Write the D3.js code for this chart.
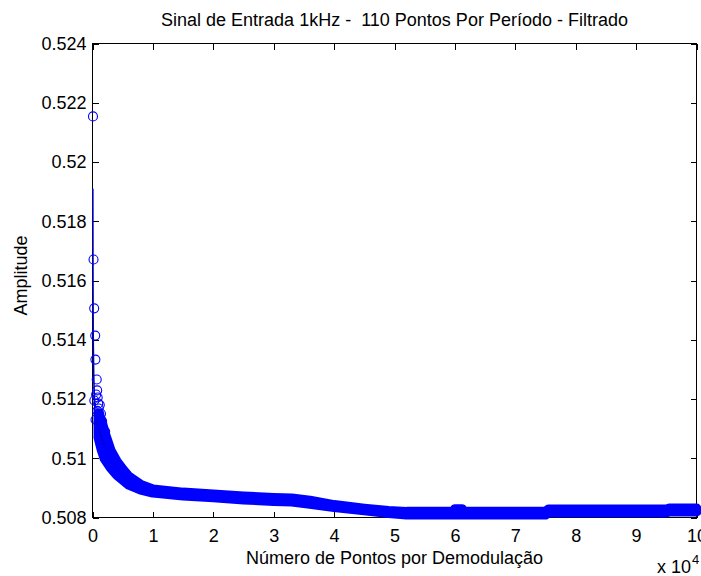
<!DOCTYPE html>
<html>
<head>
<meta charset="utf-8">
<script src="https://cdn.jsdelivr.net/npm/d3@7"></script>
<style>
  html, body { margin: 0; padding: 0; background: #fff; }
  svg { display: block; }
  text { font-family: "Liberation Sans", Arial, Helvetica, sans-serif; fill: #000; white-space: pre; }
</style>
</head>
<body>
<svg id="chart" width="701" height="576"></svg>
<script>
// ---- data (x in units of 10^4 points) ----
const titleText = "Sinal de Entrada 1kHz -  110 Pontos Por Período - Filtrado";
const xLabelText = "Número de Pontos por Demodulação";
const yLabelText = "Amplitude";

const xTicks = [0, 1, 2, 3, 4, 5, 6, 7, 8, 9, 10];
const xTickLabels = ["0", "1", "2", "3", "4", "5", "6", "7", "8", "9", "10"];
const yTicks = [0.508, 0.510, 0.512, 0.514, 0.516, 0.518, 0.520, 0.522, 0.524];
const yTickLabels = ["0.508", "0.51", "0.512", "0.514", "0.516", "0.518", "0.52", "0.522", "0.524"];

// first, well separated measurements
const earlyX = [0.008, 0.017, 0.028, 0.045, 0.048, 0.070, 0.078, 0.086, 0.094, 0.103, 0.111,
                0.119, 0.127, 0.144, 0.152, 0.169, 0.185, 0.202, 0.227, 0.252, 0.276, 0.310,
                0.060, 0.080, 0.100, 0.120, 0.140, 0.030, 0.050, 0.160, 0.210];
const earlyV = [0.52154, 0.51671, 0.51506, 0.51414, 0.51333, 0.51266, 0.51229, 0.51205, 0.51185,
                0.51168, 0.51151, 0.51138, 0.51124, 0.51111, 0.51097, 0.51084, 0.51070, 0.51057,
                0.51043, 0.51030, 0.51016, 0.51003,
                0.51215, 0.51160, 0.51120, 0.51180, 0.51150, 0.51195, 0.51130, 0.51125, 0.51090];

// filtered trace
const lineX = [0.005, 0.008, 0.012, 0.020, 0.035, 0.060, 0.100, 0.150, 0.200];
const lineV = [0.51910, 0.51600, 0.51400, 0.51280, 0.51180, 0.51120, 0.51100, 0.51070, 0.51040];

// dense region: upper / lower limits of the marker cloud
const bandX  = [0.10, 0.15, 0.2, 0.3, 0.4, 0.5, 0.6, 0.8, 1.0, 1.5, 2.0, 2.5, 3.0, 3.3, 3.6, 4.0,
                4.5, 4.9, 5.2, 5.98, 6.0, 6.12, 6.14, 7.5, 7.55, 9.5, 9.55, 10];
const bandHi = [0.51150, 0.51125, 0.51087, 0.51026, 0.50989, 0.50962, 0.50938, 0.50910, 0.50895,
                0.50884, 0.50878, 0.50871, 0.50866, 0.50864, 0.50857, 0.50842, 0.50830, 0.50822,
                0.50819, 0.50819, 0.50828, 0.50828, 0.50819, 0.50819, 0.50827, 0.50827, 0.50830, 0.50830];
const bandLo = [0.51070, 0.51030, 0.50999, 0.50969, 0.50945, 0.50928, 0.50911, 0.50894, 0.50884,
                0.50874, 0.50868, 0.50861, 0.50856, 0.50854, 0.50846, 0.50835, 0.50824, 0.50815,
                0.50810, 0.50810, 0.50810, 0.50810, 0.50810, 0.50810, 0.50817, 0.50817, 0.50820, 0.50820];

// ---- layout ----
const L = 92.5, R = 696.5, T = 43.5, B = 517.5;
const blue = "#0000ff";
const svg = d3.select("#chart");
svg.append("rect").attr("width", 701).attr("height", 576).attr("fill", "#fff");

const x = d3.scaleLinear().domain([0, 10]).range([L, R]);
const y = d3.scaleLinear().domain([0.508, 0.524]).range([B, T]);

const fs = 18;

// axes (ticks point inward)
const gB = svg.append("g").attr("transform", `translate(0,${B})`)
  .call(d3.axisBottom(x).tickValues(xTicks).tickSize(-6).tickPadding(12)
        .tickFormat((d, i) => xTickLabels[i]));
const gL = svg.append("g").attr("transform", `translate(${L},0)`)
  .call(d3.axisLeft(y).tickValues(yTicks).tickSize(-6).tickPadding(6)
        .tickFormat((d, i) => yTickLabels[i]));
const gT = svg.append("g").attr("transform", `translate(0,${T})`)
  .call(d3.axisTop(x).tickValues(xTicks).tickSize(-6).tickFormat(""));
const gR = svg.append("g").attr("transform", `translate(${R},0)`)
  .call(d3.axisRight(y).tickValues(yTicks).tickSize(-6).tickFormat(""));
[gB, gL, gT, gR].forEach(g => {
  g.select(".domain").remove();
  g.selectAll(".tick line").attr("stroke", "#000").attr("shape-rendering", "crispEdges");
  g.selectAll("text").attr("font-size", fs).attr("font-family", null).attr("fill", "#000");
});
svg.append("rect").attr("x", L).attr("y", T).attr("width", R - L).attr("height", B - T)
  .attr("fill", "none").attr("stroke", "#000").attr("stroke-width", 1)
  .attr("shape-rendering", "crispEdges");

// dense marker cloud
const band = bandX.map((v, i) => ({ x: v, hi: bandHi[i], lo: bandLo[i] }));
svg.append("path").datum(band)
  .attr("d", d3.area().x(d => x(d.x)).y0(d => y(d.lo)).y1(d => y(d.hi)))
  .attr("fill", blue).attr("stroke", blue).attr("stroke-width", 10)
  .attr("stroke-linejoin", "round");

// filtered trace
const trace = lineX.map((v, i) => ({ x: v, v: lineV[i] }));
svg.append("path").datum(trace)
  .attr("d", d3.line().x(d => x(d.x)).y(d => y(d.v)))
  .attr("fill", "none").attr("stroke", "#0000b4").attr("stroke-width", 1.6);

// individual markers
const pts = earlyX.map((v, i) => ({ x: v, v: earlyV[i] }));
svg.append("g").selectAll("circle").data(pts).join("circle")
  .attr("cx", d => x(d.x)).attr("cy", d => y(d.v)).attr("r", 4.5)
  .attr("fill", "none").attr("stroke", blue).attr("stroke-width", 1.1);

// texts
svg.append("text").attr("x", (L + R) / 2).attr("y", 26).attr("text-anchor", "middle")
  .attr("font-size", fs).text(titleText);
svg.append("text").attr("x", (L + R) / 2).attr("y", 564).attr("text-anchor", "middle")
  .attr("font-size", fs).text(xLabelText);
svg.append("text").attr("transform", `translate(26.5,275.5) rotate(-90)`)
  .attr("text-anchor", "middle").attr("font-size", fs).text(yLabelText);
svg.append("text").attr("x", 691).attr("y", 573).attr("text-anchor", "end")
  .attr("font-size", fs).text("x 10");
svg.append("text").attr("x", 692).attr("y", 564).attr("font-size", 13).text("4");
</script>
</body>
</html>
